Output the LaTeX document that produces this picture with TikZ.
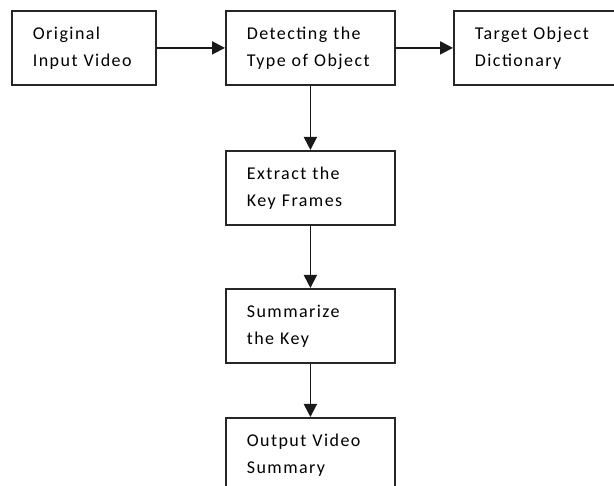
\documentclass[tikz,border=0pt]{standalone}
\usepackage{fontspec}
\setmainfont{Carlito}[LetterSpace=8,WordSpace=0.6]
\usetikzlibrary{arrows.meta}
\begin{document}
\begin{tikzpicture}[x=1pt,y=-1pt,
  box/.style={draw=black!85, line width=1.8pt, rectangle, minimum height=74pt,
    inner xsep=21pt, inner ysep=0pt, align=left, anchor=north west,
    font=\fontsize{18}{27}\selectfont},
  wbox/.style={box, minimum width=169pt, text width=127pt},
  nbox/.style={box, minimum width=144pt, text width=102pt},
  conn/.style={line width=1.8pt, draw=black!90, -{Triangle[length=13pt,width=13pt]}}]
\useasboundingbox (0,0) rectangle (614,486);
\clip (0,0) rectangle (614,486);
\node[nbox] (orig) at (11,10) {Original\\Input Video};
\node[wbox] (detect) at (225,10) {Detecting the\\Type of Object};
\node[wbox] (dict) at (453,10) {Target Object\\Dictionary};
\node[wbox] (extract) at (225,150) {Extract the\\Key Frames};
\node[wbox] (summ) at (225,288) {Summarize\\the Key};
\node[wbox] (out) at (225,417) {Output Video\\Summary};
\draw[conn] (orig) -- (detect);
\draw[conn] (detect) -- (dict);
\draw[conn] (detect) -- (extract);
\draw[conn] (extract) -- (summ);
\draw[conn] (summ) -- (out);
\end{tikzpicture}
\end{document}
